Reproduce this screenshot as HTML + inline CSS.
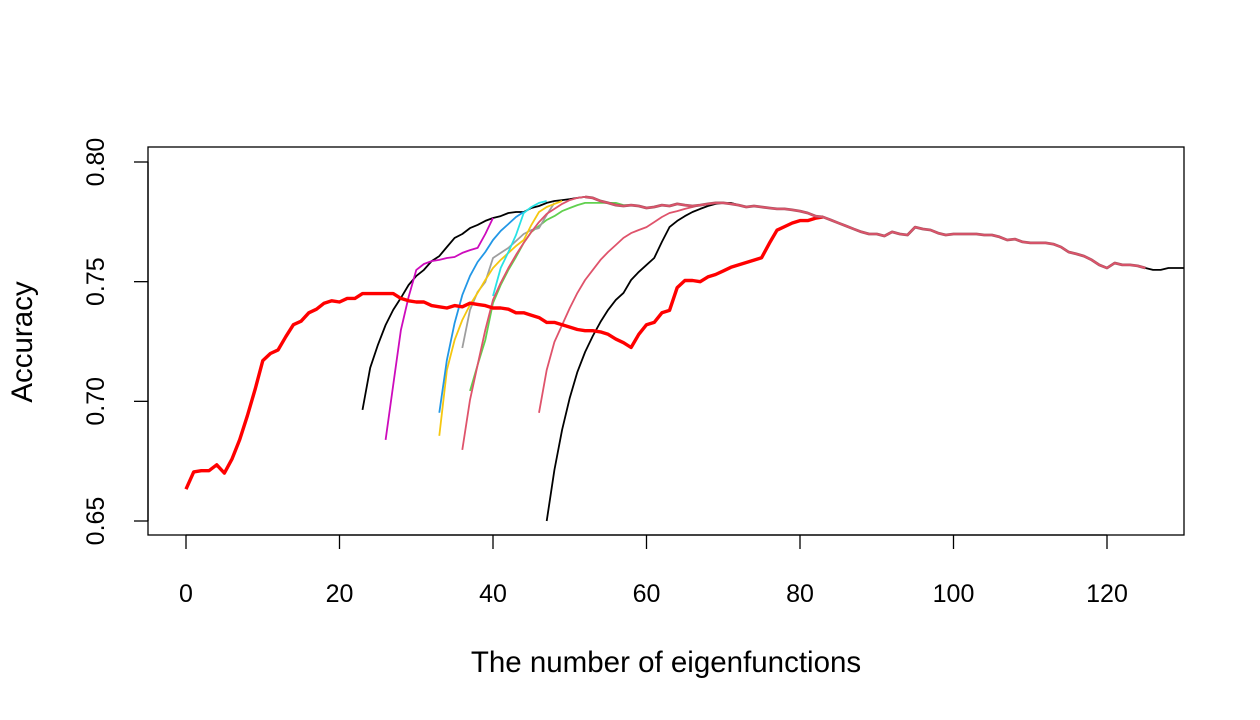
<!DOCTYPE html>
<html><head><meta charset="utf-8"><style>
html,body{margin:0;padding:0;background:#fff;}
svg{display:block;font-family:"Liberation Sans",Arial,sans-serif;}
</style></head><body>
<svg id="chart" width="1260" height="720" xmlns="http://www.w3.org/2000/svg">
<rect x="148" y="147" width="1036" height="388" fill="none" stroke="#000" stroke-width="1.3"/>
<g id="xaxis"></g>
<g id="yaxis"></g>
<g id="series"></g>
<text x="666" y="672" font-size="29.5" text-anchor="middle">The number of eigenfunctions</text>
<text transform="translate(32,342) rotate(-90)" font-size="29.5" text-anchor="middle">Accuracy</text>
</svg>
<script>
const xTicks=[0,20,40,60,80,100,120];
const yTicks=[0.65,0.70,0.75,0.80];
const yTickLabels=["0.65","0.70","0.75","0.80"];

const redStart=0;
const redVals=[.6633,.6705,.671,.671,.6735,.670,.676,.684,.694,.705,
.717,.720,.7215,.727,.732,.7335,.737,.7385,.741,.742,
.7415,.743,.743,.745,.745,.745,.745,.745,.743,.742,
.7415,.7415,.740,.7395,.739,.740,.7395,.741,.7405,.740,
.739,.739,.7385,.737,.737,.736,.735,.733,.733,.732,
.731,.730,.7295,.7295,.729,.728,.726,.7245,.7225,.728,
.732,.733,.737,.738,.7475,.7505,.7505,.750,.752,.753,
.7545,.756,.757,.758,.759,.760,.766,.7715,.773,.7745,
.7755,.7755,.7765];

const tailStart=52;
const tailVals=[.7854,.7850,.7837,.7829,.7820,.7816,.7820,.7816,.7808,.7812,
.7820,.7816,.7825,.7820,.7816,.7820,.7825,.7829,.7829,.7825,
.7820,.7812,.7816,.7812,.7808,.7804,.7804,.7800,.7795,.7787,
.7774,.7770,.7758,.7745,.7733,.7720,.7708,.7699,.7699,.7691,
.7708,.7699,.7695,.7728,.7720,.7716,.7703,.7695,.7699,.7699,
.7699,.7699,.7695,.7695,.7687,.7674,.7678,.7666,.7662,.7662,
.7662,.7657,.7645,.7624,.7616,.7607,.7591,.7570,.7557,.7578,
.7570,.7570,.7566,.7557,.7549,.7549,.7557,.7557,.7557];

const black1Start=23;
const black1Vals=[.6964,.7140,.7236,.7319,.7382,.7432,.7486,.7524,.7549,.7586,.7607,.7645,.7683,.7699,.7724,.7737,.7754,.7766,.7774,.7787,.7791,.7791,.7808,.7816,.7829,.7837,.7841,.7845,.7850];
const magentaStart=26;
const magentaVals=[.6839,.7068,.7298,.7436,.7549,.7574,.7586,.7591,.7599,.7603,.7620,.7632,.7641,.7699,.7766];
const blueStart=33;
const blueVals=[.6952,.7173,.7327,.7444,.7524,.7582,.7624,.7674,.7712,.7741,.7770,.7791];
const yellowStart=33;
const yellowVals=[.6856,.7131,.7256,.7340,.7403,.7453,.7507,.7557,.7591,.7620,.7649,.7674,.7737,.7791,.7812,.7825,.7837];
const grayStart=36;
const grayVals=[.7223,.7382,.7457,.7499,.7599,.7620,.7641,.7670,.7699,.7716,.7724,.7779,.7829];
const cyanStart=40;
const cyanVals=[.7440,.7557,.7624,.7695,.7787,.7812,.7829,.7837];
const greenStart=37;
const greenVals=[.7043,.7152,.7256,.7411,.7486,.7549,.7603,.7662,.7708,.7733,.7758,.7774,.7795,.7808,.7820,.7829,.7829,.7829,.7829,.7829,.7820];
const pink1Start=36;
const pink1Vals=[.6797,.7006,.7152,.7298,.7424,.7495,.7557,.7612,.7662,.7708,.7749,.7783,.7804,.7825,.7841,.7850,.7854];
const pink2Start=46;
const pink2Vals=[.6952,.7131,.7248,.7319,.7390,.7453,.7507,.7549,.7591,.7624,.7653,.7683,.7703,.7716,.7728,.7749,.7770,.7787,.7795,.7804,.7812,.7820,.7825];
const black2Start=47;
const black2Vals=[.6500,.6713,.6881,.7015,.7123,.7206,.7273,.7332,.7382,.7424,.7453,.7507,.7541,.7570,.7599,.7666,.7728,.7754,.7774,.7791,.7804,.7816,.7825,.7829,.7829];

const NS="http://www.w3.org/2000/svg";
function sx(v){return 186+v*(1107-186)/120;}
function sy(v){return 162+(0.80-v)*(521-162)/0.15;}
function mk(tag,attrs,parent){const e=document.createElementNS(NS,tag);for(const k in attrs)e.setAttribute(k,attrs[k]);parent.appendChild(e);return e;}

const xa=document.getElementById('xaxis');
const xl=mk('line',{x1:sx(xTicks[0]),x2:sx(xTicks[xTicks.length-1]),y1:535,y2:535,stroke:'#000','stroke-width':1.3},xa);


xTicks.forEach(t=>{
  const l=mk('line',{x1:sx(t),x2:sx(t),y1:535,y2:549,stroke:'#000','stroke-width':1.3},xa);
  
  
  const tx=mk('text',{x:sx(t),y:602,'font-size':25,'text-anchor':'middle'},xa);
  tx.textContent=String(t);
  
  
});
const ya=document.getElementById('yaxis');
const yl=mk('line',{x1:148,x2:148,y1:sy(yTicks[0]),y2:sy(yTicks[yTicks.length-1]),stroke:'#000','stroke-width':1.3},ya);


yTicks.forEach((t,i)=>{
  const l=mk('line',{x1:134,x2:148,y1:sy(t),y2:sy(t),stroke:'#000','stroke-width':1.3},ya);
  
  
  const tx=mk('text',{transform:`translate(104,${sy(t)}) rotate(-90)`,'font-size':25,'text-anchor':'middle'},ya);
  tx.textContent=yTickLabels[i];
  
  
});

const sg=document.getElementById('series');
function draw(start,vals,color,w,name,joinTail){
  const pts=vals.map((v,i)=>[sx(start+i),sy(v)]);
  const nx=start+vals.length;
  if(joinTail&&nx>=tailStart&&nx<tailStart+tailVals.length)pts.push([sx(nx),sy(tailVals[nx-tailStart])]);
  const p=mk('polyline',{points:pts.map(q=>q[0].toFixed(1)+','+q[1].toFixed(1)).join(' '),fill:'none',stroke:color,'stroke-width':w,'stroke-linejoin':'round'},sg);
  
  
}
const bt=tailVals.slice(125-tailStart);
draw(125,bt,'#000',1.8,'black-series-tail-end',false);
draw(black2Start,black2Vals,'#000',1.8,'black-series-2',true);
draw(black1Start,black1Vals,'#000',1.8,'black-series-1',true);
draw(magentaStart,magentaVals,'#CD0BBC',1.8,'magenta-series',false);
draw(greenStart,greenVals,'#61D04F',1.8,'green-series',true);
draw(grayStart,grayVals,'#9E9E9E',1.8,'gray-series',true);
draw(yellowStart,yellowVals,'#F5C710',1.8,'yellow-series',true);
draw(blueStart,blueVals,'#2297E6',1.8,'blue-series',true);
draw(cyanStart,cyanVals,'#28E2E5',1.8,'cyan-series',true);
draw(pink2Start,pink2Vals,'#DF536B',1.8,'pink-series-2',true);
draw(pink1Start,pink1Vals,'#DF536B',1.8,'pink-series-1',true);
draw(redStart,redVals,'#FF0000',3.4,'red-series-thick',true);
draw(tailStart,tailVals.slice(0,125-tailStart+1),'#A85560',2.8,'shared-tail-outline',false);
draw(tailStart,tailVals.slice(0,125-tailStart+1),'#DF536B',1.6,'shared-tail',false);
</script>
</body></html>
